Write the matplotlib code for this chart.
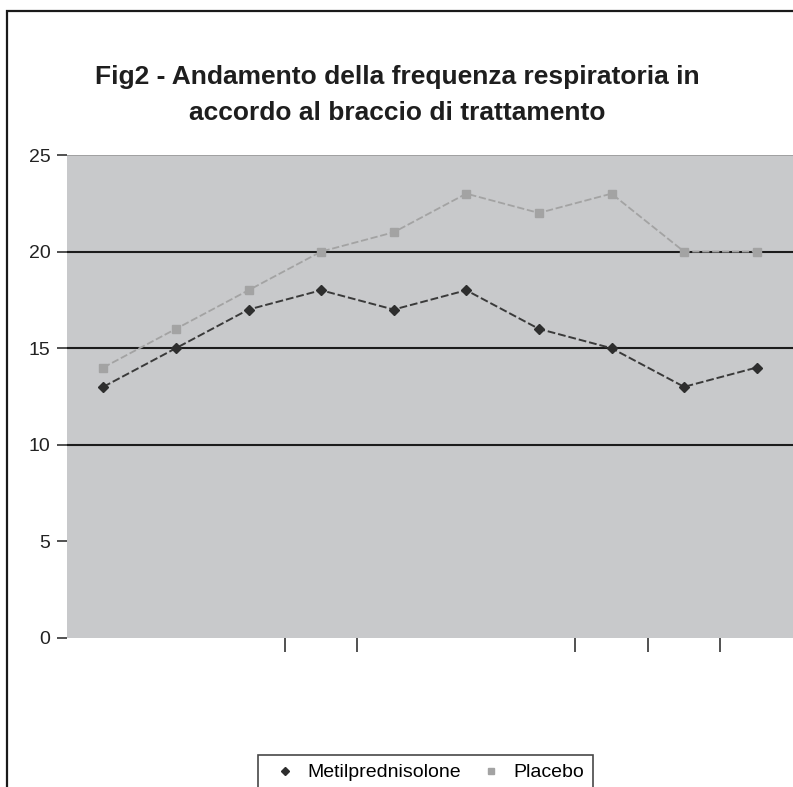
import matplotlib
matplotlib.use('Agg')
import matplotlib.pyplot as plt
from matplotlib.patches import Rectangle
from matplotlib.lines import Line2D

# frequenza respiratoria per controllo (10 rilevazioni)
visite = list(range(10))
metilpred = [13, 15, 17, 18, 17, 18, 16, 15, 13, 14]
placebo = [14, 16, 18, 20, 21, 23, 22, 23, 20, 20]
y_ticks = [0, 5, 10, 15, 20, 25]
x_divisori = [2.5, 3.5, 6.5, 7.5, 8.5]

W, H = 793, 787
fig = plt.figure(figsize=(W / 100, H / 100), dpi=100)
fig.patch.set_facecolor('white')

# cornice esterna del grafico
fig.patches.append(Rectangle((7 / W, -0.05), 1.1, 1 - 11 / H + 0.05,
                             transform=fig.transFigure, fill=False,
                             edgecolor='#1a1a1a', linewidth=1.6))

ax = fig.add_axes([67 / W, 1 - 638 / H, (793 - 67) / W, (638 - 155) / H])
ax.set_facecolor('#c8c9cb')
ax.set_xlim(-0.5, 9.5)
ax.set_ylim(0, 25)

for v in [10, 15, 20]:
    ax.axhline(v, color='#1c1c1c', linewidth=1.5, zorder=1)
ax.axhline(25, color='#9a9a9a', linewidth=1.2, zorder=1)

ax.plot(visite, placebo, color='#a3a3a3', linewidth=1.3, linestyle=(0, (4, 1.5)),
        marker='s', markersize=6, markerfacecolor='#a3a3a3',
        markeredgecolor='#a3a3a3', zorder=3)
ax.plot(visite, metilpred, color='#3a3a3a', linewidth=1.4, linestyle=(0, (4, 1.5)),
        marker='D', markersize=5.5, markerfacecolor='#2e2e2e',
        markeredgecolor='#2e2e2e', zorder=4)

for s in ax.spines.values():
    s.set_visible(False)

ax.set_yticks(y_ticks)
ax.set_yticklabels([str(v) for v in y_ticks], fontsize=14,
                   family='Liberation Sans', color='#222222')
ax.tick_params(axis='y', length=7, width=1.2, color='#333333', pad=5)
ax.set_xticks(x_divisori)
ax.set_xticklabels([])
ax.tick_params(axis='x', direction='out', length=10, width=1.2, color='#333333')

fig.text(397 / W, 1 - 77 / H, 'Fig2 - Andamento della frequenza respiratoria in',
         ha='center', va='center', fontsize=19, fontweight='bold',
         family='Liberation Sans', color='#1e1e1e')
fig.text(397 / W, 1 - 113 / H, 'accordo al braccio di trattamento',
         ha='center', va='center', fontsize=19, fontweight='bold',
         family='Liberation Sans', color='#1e1e1e')

handles = [
    Line2D([], [], linestyle='none', marker='D', markersize=4.5,
           markerfacecolor='#2e2e2e', markeredgecolor='#2e2e2e'),
    Line2D([], [], linestyle='none', marker='s', markersize=5,
           markerfacecolor='#a3a3a3', markeredgecolor='#a3a3a3'),
]
leg = fig.legend(handles, ['Metilprednisolone', 'Placebo'], ncol=2,
                 loc='upper left', bbox_to_anchor=(258 / W, 1 - 755 / H),
                 borderaxespad=0, frameon=True, fancybox=False,
                 edgecolor='#1a1a1a', borderpad=0.45, handlelength=1.9,
                 handletextpad=0.2, columnspacing=0.6,
                 prop={'family': 'Liberation Sans', 'size': 14})
leg.get_frame().set_linewidth(1.2)

fig.savefig('out.png', dpi=100, facecolor='white')
